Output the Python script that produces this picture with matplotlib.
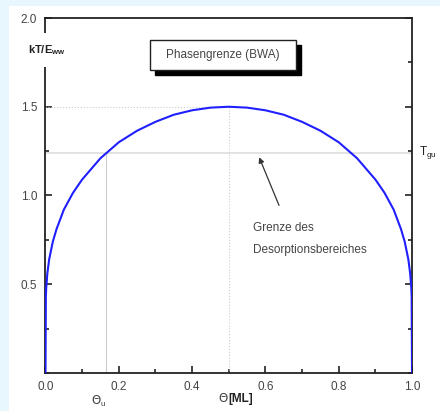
import matplotlib.pyplot as plt
from matplotlib.patches import Rectangle
from matplotlib.ticker import MultipleLocator

# coexistence curve (Bragg-Williams), coverage vs. reduced temperature
theta = [0.0, 0.001, 0.002, 0.005, 0.01, 0.02, 0.03, 0.05, 0.075, 0.1, 0.15, 0.2,
         0.25, 0.3, 0.35, 0.4, 0.45, 0.5, 0.55, 0.6, 0.65, 0.7, 0.75, 0.8, 0.85,
         0.9, 0.925, 0.95, 0.97, 0.98, 0.99, 0.995, 0.998, 0.999, 1.0]
kT = [0.0, 0.43, 0.48, 0.56, 0.64, 0.74, 0.81, 0.92, 1.015, 1.09, 1.21, 1.30,
      1.365, 1.415, 1.455, 1.48, 1.495, 1.5, 1.495, 1.48, 1.455, 1.415, 1.365,
      1.30, 1.21, 1.09, 1.015, 0.92, 0.81, 0.74, 0.64, 0.56, 0.48, 0.43, 0.0]

T_gu = 1.24
theta_u = 0.164
T_c = 1.5

plt.rcParams['font.family'] = ['Liberation Sans', 'DejaVu Sans']
txt = '#444444'

fig = plt.figure(figsize=(4.4, 4.11), dpi=100, facecolor='#e8f6fd')
fig.patches.append(Rectangle((9 / 440, 0), 1, 1 - 6 / 411, transform=fig.transFigure,
                             facecolor='white', edgecolor='none', zorder=-5))
ax = fig.add_axes([0.1034, 0.0925, 0.833, 0.8637])
ax.set_xlim(0, 1)
ax.set_ylim(0, 2)

# guide lines
ax.plot([0, 0.5], [T_c, T_c], color='#cccccc', lw=0.8, ls=':')
ax.plot([0.5, 0.5], [0, T_c], color='#cccccc', lw=0.8, ls=':')
ax.plot([0, 1], [T_gu, T_gu], color='#dddddd', lw=1.2)
ax.plot([theta_u, theta_u], [0, T_gu], color='#cccccc', lw=0.8)

ax.plot(theta, kT, color='#1f1fff', lw=1.5, zorder=3)

for s in ax.spines.values():
    s.set_linewidth(1.3)
    s.set_color('#222222')

ax.xaxis.set_major_locator(MultipleLocator(0.2))
ax.xaxis.set_minor_locator(MultipleLocator(0.1))
ax.yaxis.set_major_locator(MultipleLocator(0.5))
ax.yaxis.set_minor_locator(MultipleLocator(0.25))
ax.tick_params(which='both', direction='in', top=False, right=True, colors='#222222',
               labelcolor=txt, labelsize=8.5, width=1.2)
ax.tick_params(which='major', length=5, pad=6)
ax.tick_params(which='minor', length=3)
ax.set_xticks([0, 0.2, 0.4, 0.6, 0.8, 1.0])
ax.set_xticklabels(['0.0', '0.2', '0.4', '0.6', '0.8', '1.0'])
ax.set_yticks([0.5, 1.0, 1.5, 2.0])
ax.set_yticklabels(['0.5', '1.0', '1.5', '2.0'])

# axis labels (y label sits on the spine, breaking it)
ax.text(0.004, 0.91, r'kT/E$_{\mathregular{ww}}$', transform=ax.transAxes, ha='center',
        va='center', fontsize=8, fontweight='bold', color='#222222', zorder=7,
        bbox=dict(facecolor='white', edgecolor='none', pad=7))
ax.text(0.5, -0.072, r'$\Theta$ ', transform=ax.transAxes, ha='right', va='center',
        fontsize=8.5, color=txt)
ax.text(0.5, -0.072, '[ML]', transform=ax.transAxes, ha='left', va='center',
        fontsize=8.5, fontweight='bold', color='#222222')
ax.text(theta_u - 0.02, -0.08, r'$\Theta_{\mathregular{u}}$', transform=ax.get_xaxis_transform(),
        ha='center', va='center', fontsize=8.5, color=txt)
ax.text(1.02, T_gu, r'T$_{\mathregular{gu}}$', ha='left', va='center', fontsize=8.5,
        color='#222222', clip_on=False)

# title box with drop shadow
ax.add_patch(Rectangle((0.299, 1.68), 0.398, 0.17, facecolor='black', edgecolor='black', zorder=4))
ax.add_patch(Rectangle((0.285, 1.705), 0.398, 0.17, facecolor='white', edgecolor='#222222',
                       lw=1, zorder=5))
ax.text(0.484, 1.79, 'Phasengrenze (BWA)', ha='center', va='center', fontsize=8.5,
        color=txt, zorder=6)

ax.annotate('', xy=(0.58, 1.23), xytext=(0.64, 0.93),
            arrowprops=dict(arrowstyle='-|>', color='#333333', lw=0.9, mutation_scale=8))
ax.text(0.566, 0.815, 'Grenze des', fontsize=8.5, color=txt, va='center')
ax.text(0.566, 0.695, 'Desorptionsbereiches', fontsize=8.5, color=txt, va='center')

fig.savefig('out.png', dpi=100, facecolor=fig.get_facecolor())
